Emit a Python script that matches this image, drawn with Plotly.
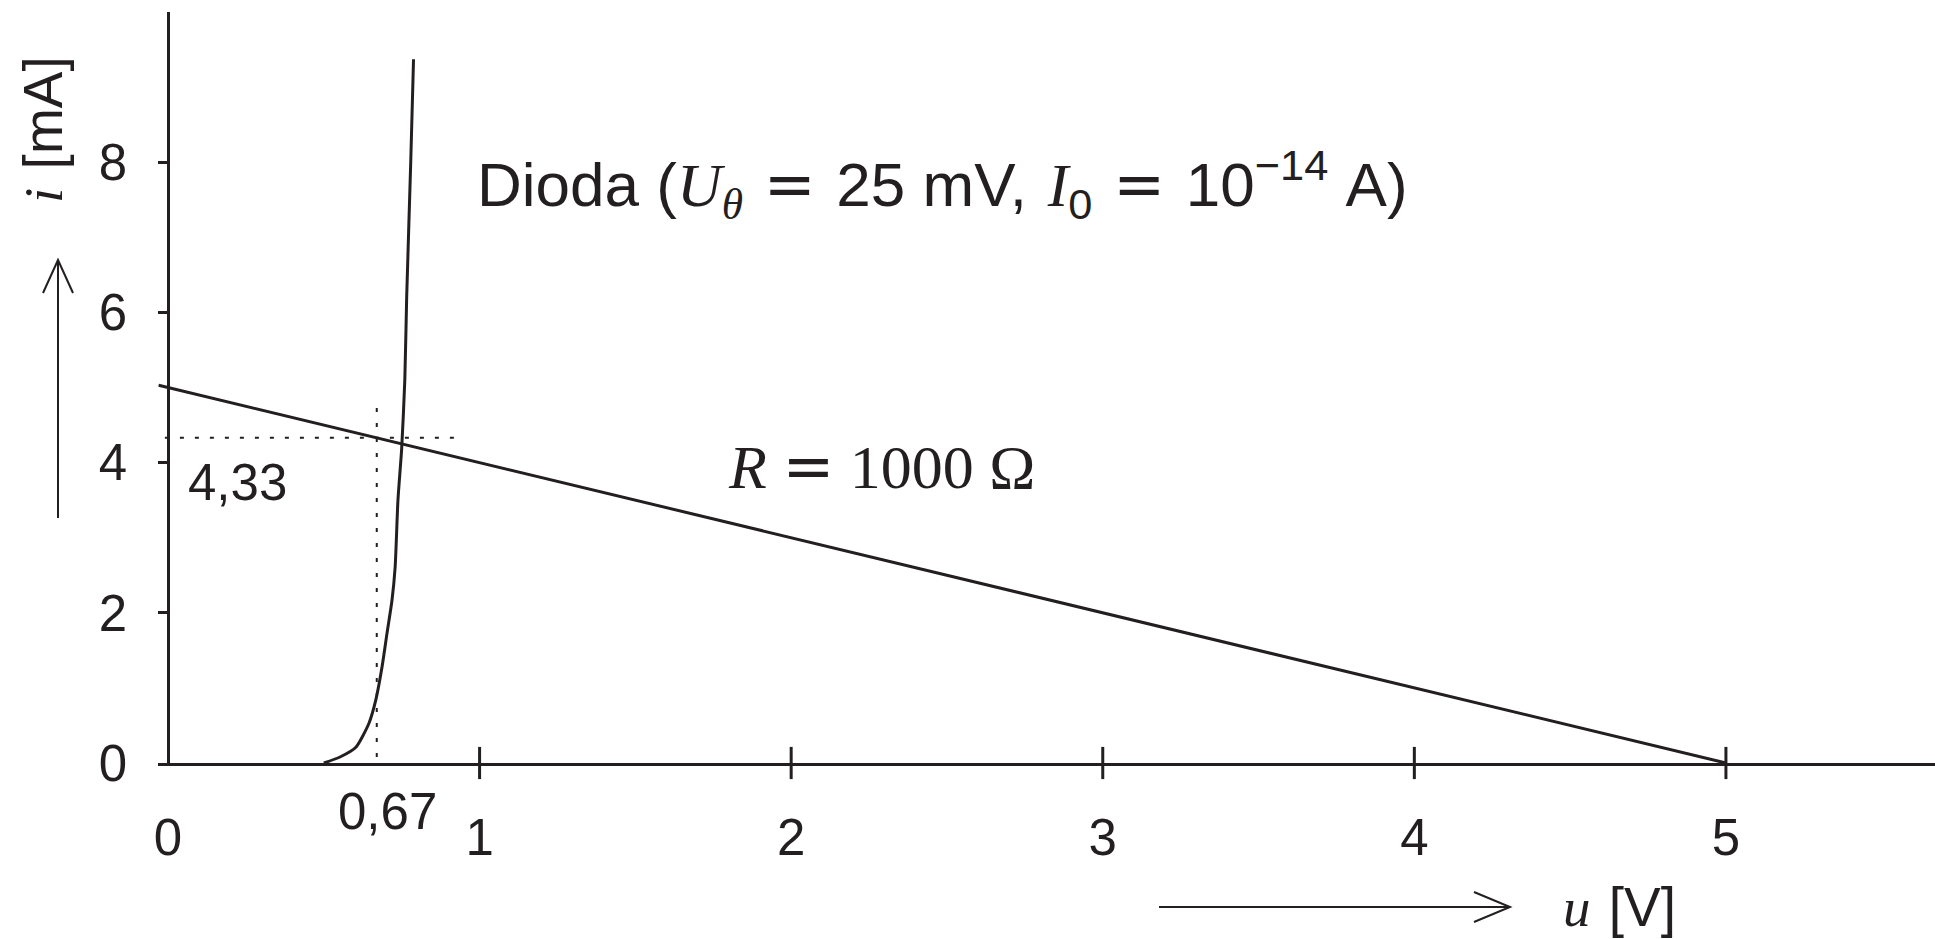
import plotly.graph_objects as go

# ---- data ---------------------------------------------------------------
# load line of the 5 V source through R = 1000 Ohm (u in V, i in mA)
load_u = [-0.03, 5.0]
load_i = [5.03, 0.0]

# diode characteristic, points along the curve
diode_u = [0.50, 0.552, 0.603, 0.645, 0.667, 0.687, 0.703, 0.719, 0.729,
           0.738, 0.750, 0.760, 0.766, 0.779, 0.788]
diode_i = [0.0, 0.08, 0.21, 0.53, 0.84, 1.28, 1.73, 2.17, 2.61,
           3.50, 4.19, 5.10, 6.20, 8.00, 9.37]

# operating point
u_op = 0.67
i_op = 4.33

# axis ticks
u_ticks = [0, 1, 2, 3, 4, 5]
u_tick_text = ["0", "1", "2", "3", "4", "5"]
i_ticks = [0, 2, 4, 6, 8, 10]
i_tick_text = ["0", "2", "4", "6", "8", ""]

# ---- styling ------------------------------------------------------------
INK = "#231f20"
SANS = "Liberation Sans"
SERIF = "Liberation Serif"
W, H = 1935, 939
PL, PR, PT, PB = 158, 1935, 12, 763   # plot area in pixels
U_RANGE = [-0.0321, 5.671]
I_RANGE = [0.0, 10.0]


def px(x):
    return (x - PL) / (PR - PL)


def py(y):
    return (PB - y) / (PB - PT)


def fmt(v):
    return f"{v:.2f}".replace(".", ",")


fig = go.Figure()

# dotted guides to the operating point
fig.add_trace(go.Scatter(x=[-0.01, 0.95], y=[i_op, i_op], mode="lines",
                         line=dict(color=INK, width=2, dash="4px,11px"),
                         hoverinfo="skip", showlegend=False))
fig.add_trace(go.Scatter(x=[u_op, u_op], y=[-0.12, 4.87], mode="lines",
                         line=dict(color=INK, width=2, dash="4px,11px"),
                         hoverinfo="skip", showlegend=False, cliponaxis=False))

# load line
fig.add_trace(go.Scatter(x=load_u, y=load_i, mode="lines",
                         line=dict(color=INK, width=3), showlegend=False))
# diode curve
fig.add_trace(go.Scatter(x=diode_u, y=diode_i, mode="lines",
                         line=dict(color=INK, width=3, shape="spline", smoothing=0.6),
                         showlegend=False))

# tick marks crossing the u axis
fig.add_trace(go.Scatter(x=u_ticks[1:], y=[0] * (len(u_ticks) - 1), mode="markers",
                         marker=dict(symbol="line-ns", size=23,
                                     line=dict(color=INK, width=3)),
                         cliponaxis=False, hoverinfo="skip", showlegend=False))

fig.update_xaxes(range=U_RANGE, showgrid=False, showline=True, linecolor=INK,
                 linewidth=3, zeroline=True, zerolinecolor=INK, zerolinewidth=3,
                 tickmode="array", tickvals=u_ticks, ticktext=u_tick_text,
                 ticks="", ticklabelstandoff=28,
                 tickfont=dict(family=SANS, size=51, color=INK))
fig.update_yaxes(range=I_RANGE, showgrid=False, showline=False, zeroline=False,
                 tickmode="array", tickvals=i_ticks, ticktext=i_tick_text,
                 ticks="inside", ticklen=11, tickwidth=3, tickcolor=INK,
                 ticklabelstandoff=30,
                 tickfont=dict(family=SANS, size=51, color=INK))

m = lambda s: f"<span style='font-family:{SERIF}'><i>{s}</i></span>"
nb = "\u00a0"
sp = "\u2004"
eq = f"{sp}<span style='font-family:DejaVu Sans'>=</span>{sp}"

annotations = [
    dict(text=f"Dioda{nb}({m('U')}<sub>{m('θ')}</sub>{eq}25{nb}mV,{sp}{m('I')}<sub>0</sub>"
              f"{eq}10<sup>−14</sup>{nb}A)",
         x=px(475), y=py(185), xanchor="left", yanchor="middle",
         font=dict(family=SANS, size=62, color=INK)),
    dict(text=f"<i>R</i>{nb}<span style='font-family:DejaVu Sans'>=</span>{nb}1000{nb}Ω",
         x=px(726), y=py(466), xanchor="left", yanchor="middle",
         font=dict(family=SERIF, size=62, color=INK)),
    dict(text=fmt(i_op), x=px(186), y=py(482), xanchor="left", yanchor="middle",
         font=dict(family=SANS, size=51, color=INK)),
    dict(text=fmt(u_op), x=px(387), y=py(811), xanchor="center", yanchor="middle",
         font=dict(family=SANS, size=51, color=INK)),
    dict(text=f"{m('i')}{sp}[mA]", x=px(43), y=py(130), xanchor="center",
         yanchor="middle", textangle=-90,
         font=dict(family=SANS, size=55, color=INK)),
    dict(text=f"{m('u')}{sp}[V]", x=px(1619), y=py(939), xanchor="center",
         yanchor="bottom", borderpad=0,
         font=dict(family=SANS, size=55, color=INK)),
]
for a in annotations:
    a.update(xref="paper", yref="paper", showarrow=False)

# axis direction arrows
arrow = dict(color=INK, width=2)
shapes = [
    dict(type="line", x0=px(58), x1=px(58), y0=py(518), y1=py(261), line=arrow),
    dict(type="path", path=f"M {px(43)},{py(293)} L {px(58)},{py(260)} L {px(73)},{py(293)}",
         line=arrow),
    dict(type="line", x0=px(1159), x1=px(1509), y0=py(907), y1=py(907), line=arrow),
    dict(type="path", path=f"M {px(1474)},{py(892)} L {px(1510)},{py(907)} L {px(1474)},{py(922)}",
         line=arrow),
]
for s in shapes:
    s.update(xref="paper", yref="paper")

fig.update_layout(width=W, height=H, margin=dict(l=PL, r=W - PR, t=PT, b=H - PB),
                  paper_bgcolor="white", plot_bgcolor="white",
                  annotations=annotations, shapes=shapes, showlegend=False)

fig.write_html("out.html")
